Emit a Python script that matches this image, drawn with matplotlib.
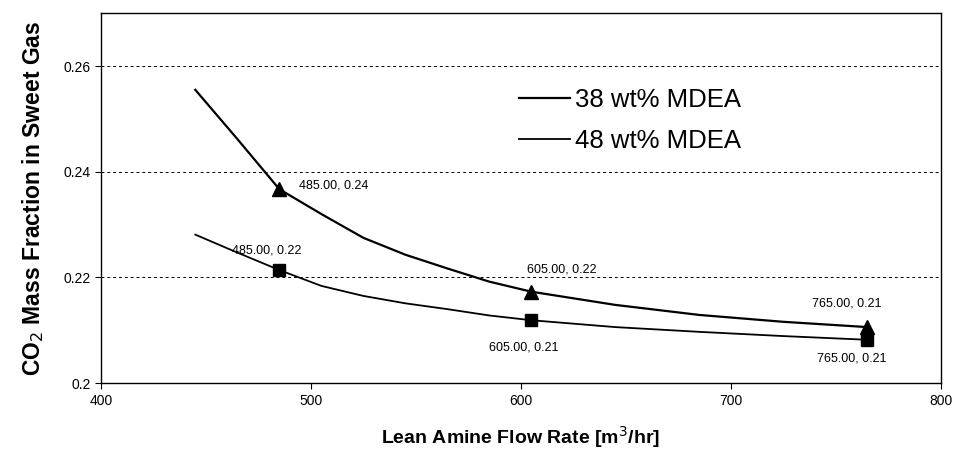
import matplotlib.pyplot as plt

plt.rcParams["font.family"] = ["Liberation Sans", "DejaVu Sans"]

# smoothed curve points
flow = [445, 465, 485, 505, 525, 545, 565, 585, 605, 645, 685, 725, 765]
co2_38 = [0.2555, 0.2462, 0.2367, 0.2320, 0.2275, 0.2243, 0.2217, 0.2192,
          0.2173, 0.2148, 0.2129, 0.2116, 0.2106]
co2_48 = [0.2281, 0.2247, 0.2214, 0.2184, 0.2165, 0.2151, 0.2140, 0.2128,
          0.2119, 0.2106, 0.2097, 0.2089, 0.2082]

# marked (simulated) points
mark_flow = [485, 605, 765]
mark_38 = [0.2367, 0.2173, 0.2106]
mark_48 = [0.2214, 0.2119, 0.2082]
labels_38 = ["485.00, 0.24", "605.00, 0.22", "765.00, 0.21"]
labels_48 = ["485.00, 0.22", "605.00, 0.21", "765.00, 0.21"]
offsets_38 = [(20, 4), (-4, 22), (-55, 24)]
offsets_48 = [(-47, 20), (-42, -27), (-50, -19)]

fig = plt.figure(figsize=(9.6, 4.55), dpi=100)
ax = fig.add_axes([0.105, 0.158, 0.875, 0.813])

ax.plot(flow, co2_38, color="black", lw=1.6, label="38 wt% MDEA")
ax.plot(flow, co2_48, color="black", lw=1.3, label="48 wt% MDEA")
ax.plot(mark_flow, mark_38, ls="none", marker="^", ms=10, color="black")
ax.plot(mark_flow, mark_48, ls="none", marker="s", ms=8, color="black")

for x, y, t, off in zip(mark_flow, mark_38, labels_38, offsets_38):
    ax.annotate(t, (x, y), xytext=off, textcoords="offset pixels",
                ha="left", va="center", fontsize=9)
for x, y, t, off in zip(mark_flow, mark_48, labels_48, offsets_48):
    ax.annotate(t, (x, y), xytext=off, textcoords="offset pixels",
                ha="left", va="center", fontsize=9)

ax.set_xlim(400, 800)
ax.set_ylim(0.2, 0.27)
ax.set_xticks([400, 500, 600, 700, 800])
ax.set_yticks([0.2, 0.22, 0.24, 0.26])
ax.set_yticklabels(["0.2", "0.22", "0.24", "0.26"])
ax.tick_params(direction="out", length=4, labelsize=10, color="black")
ax.yaxis.grid(True, ls=(0, (3, 3)), color="black", lw=0.7)
for s in ax.spines.values():
    s.set_color("black")
    s.set_linewidth(1.0)

ax.set_xlabel("Lean Amine Flow Rate [m$^3$/hr]", fontsize=14, fontweight="bold",
              labelpad=12)
ax.set_ylabel("CO$_2$ Mass Fraction in Sweet Gas", fontsize=16.5, fontweight="bold",
              labelpad=12)

ax.legend(loc="upper left", bbox_to_anchor=(0.47, 0.86), frameon=False,
          fontsize=18.5, handlelength=2.0, handletextpad=0.2, labelspacing=0.65)

fig.savefig("out.png", dpi=100)
